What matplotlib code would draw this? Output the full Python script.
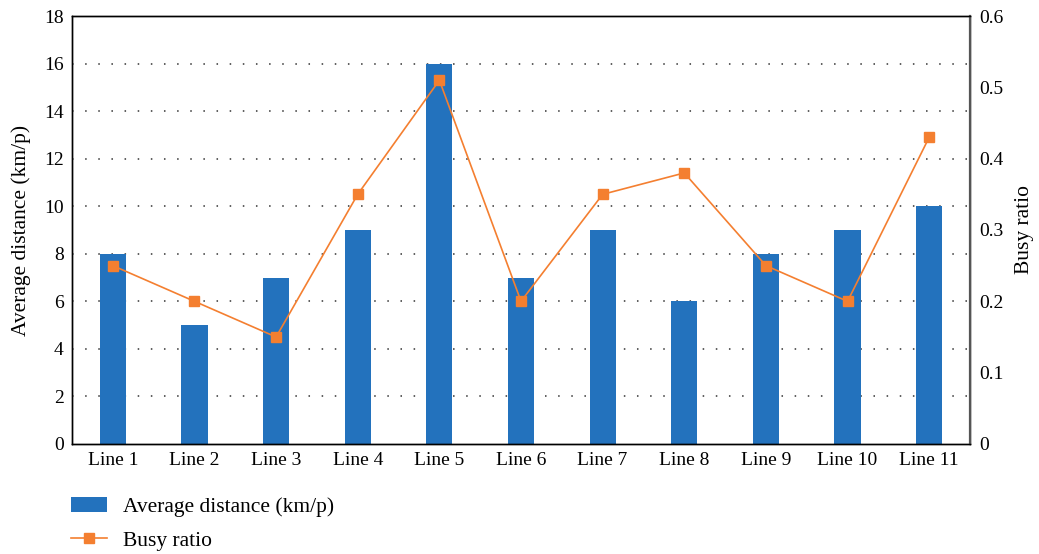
import matplotlib.pyplot as plt
import numpy as np

# per-line data
lines = ['Line 1', 'Line 2', 'Line 3', 'Line 4', 'Line 5', 'Line 6',
         'Line 7', 'Line 8', 'Line 9', 'Line 10', 'Line 11']
avg_distance = [8, 5, 7, 9, 16, 7, 9, 6, 8, 9, 10]
busy_ratio = [0.25, 0.20, 0.15, 0.35, 0.51, 0.20, 0.35, 0.38, 0.25, 0.20, 0.43]

BLUE = '#2372bd'
ORANGE = '#f47f30'

plt.rcParams['font.family'] = ['Liberation Serif', 'DejaVu Serif']
plt.rcParams['font.size'] = 14

fig = plt.figure(figsize=(10.39, 5.54), dpi=100)
ax = fig.add_axes([0.0693, 0.1986, 0.8643, 0.7725])
x = np.arange(len(lines))

bars = ax.bar(x, avg_distance, width=0.32, color=BLUE, zorder=2,
              label='Average distance (km/p)')
ax.set_ylim(0, 18)
ax.set_yticks(np.arange(0, 19, 2))
ax.set_xlim(-0.5, len(lines) - 0.5)
ax.set_xticks(x)
ax.set_xticklabels(lines)
ax.set_ylabel('Average distance (km/p)', labelpad=9, fontsize=15.5)
ax.tick_params(length=0, pad=6)

# dotted guide lines at the inner ticks only
for yv in range(2, 18, 2):
    ax.axhline(yv, color='#333333', lw=1.1, linestyle=(0, (1, 7.6)), zorder=1)

ax2 = ax.twinx()
ln, = ax2.plot(x, busy_ratio, color=ORANGE, lw=1.2, marker='s', ms=7,
               label='Busy ratio', zorder=3)
ax2.set_ylim(0, 0.6)
ax2.set_yticks(np.arange(0, 0.61, 0.1))
ax2.set_yticklabels(['0', '0.1', '0.2', '0.3', '0.4', '0.5', '0.6'])
ax2.set_ylabel('Busy ratio', rotation=90, labelpad=8, fontsize=15.5)
ax2.tick_params(length=0, pad=7)

for a in (ax, ax2):
    for s in a.spines.values():
        s.set_linewidth(1.0)
ax2.spines['right'].set_color('#555555')
ax2.spines['right'].set_linewidth(1.6)

fig.legend(handles=[bars, ln], loc='lower left', bbox_to_anchor=(0.050, -0.029),
           frameon=False, handlelength=1.65, handleheight=0.65,
           handletextpad=0.75, labelspacing=0.65, fontsize=15.5)

fig.savefig('out.png', dpi=100)
